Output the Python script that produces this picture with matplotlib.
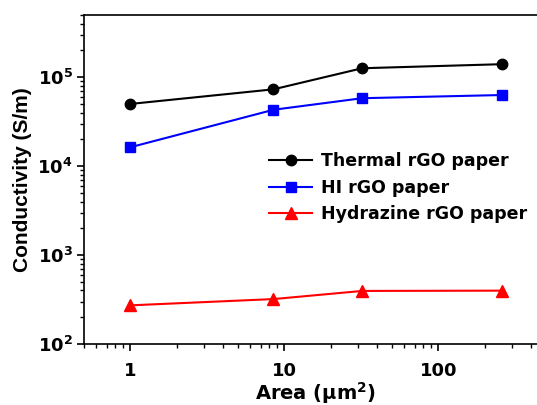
import matplotlib
matplotlib.use('Agg')
import matplotlib.pyplot as plt
from matplotlib.ticker import LogLocator, FixedLocator, FixedFormatter, NullFormatter

plt.rcParams['font.family'] = ['DejaVu Sans']
plt.rcParams['font.weight'] = 'bold'
plt.rcParams['mathtext.fontset'] = 'custom'
plt.rcParams['mathtext.rm'] = 'DejaVu Sans:bold'
plt.rcParams['mathtext.bf'] = 'DejaVu Sans:bold'
plt.rcParams['mathtext.it'] = 'DejaVu Sans:bold'

# data
area = [1, 8.5, 32, 260]
thermal = [5.0e4, 7.3e4, 1.26e5, 1.4e5]
hi = [1.63e4, 4.3e4, 5.8e4, 6.3e4]
hydrazine = [272, 320, 395, 398]

series_names = ['Thermal rGO paper', 'HI rGO paper', 'Hydrazine rGO paper']

fig = plt.figure(figsize=(5.37, 4.05), dpi=100)
# right edge of the axes sits outside the figure, as in the cropped original
ax = fig.add_axes([84 / 537, (405 - 344) / 405, 462 / 537, 329 / 405])

ax.plot(area, thermal, '-o', color='black', lw=1.5, ms=7.5, label=series_names[0])
ax.plot(area, hi, '-s', color='#0000ff', lw=1.5, ms=7, label=series_names[1])
ax.plot(area, hydrazine, '-^', color='#ff0000', lw=1.5, ms=8.5, label=series_names[2])

ax.set_xscale('log')
ax.set_yscale('log')
ax.set_xlim(0.5, 500)
ax.set_ylim(100, 5e5)

ax.xaxis.set_major_locator(FixedLocator([1, 10, 100]))
ax.xaxis.set_major_formatter(FixedFormatter(['1', '10', '100']))
ax.xaxis.set_minor_locator(LogLocator(base=10, subs=range(2, 10)))
ax.xaxis.set_minor_formatter(NullFormatter())

yt = [1e2, 1e3, 1e4, 1e5]
ax.yaxis.set_major_locator(FixedLocator(yt))
ax.yaxis.set_major_formatter(FixedFormatter([r'$10^{%d}$' % k for k in range(2, 6)]))
ax.yaxis.set_minor_locator(LogLocator(base=10, subs=range(2, 10)))
ax.yaxis.set_minor_formatter(NullFormatter())

ax.tick_params(which='major', direction='out', length=5, width=1.2, labelsize=13)
ax.tick_params(which='minor', direction='out', length=3, width=1)
ax.tick_params(axis='x', pad=8)
ax.tick_params(axis='y', pad=3)

for s in ax.spines.values():
    s.set_linewidth(1.2)
ax.spines['right'].set_visible(False)

ax.set_xlabel('Area (\u03bcm$^{2}$)', fontsize=14, fontweight='bold', labelpad=0)
ax.set_ylabel('Conductivity (S/m)', fontsize=15, fontweight='bold', labelpad=4,
              family='Liberation Sans')

ax.legend(loc='center left', bbox_to_anchor=(0.40, 0.475), frameon=False,
          fontsize=12.5, handlelength=2.5, labelspacing=0.5, handletextpad=0.5,
          borderaxespad=0, borderpad=0)

plt.savefig('out.png', dpi=100)
